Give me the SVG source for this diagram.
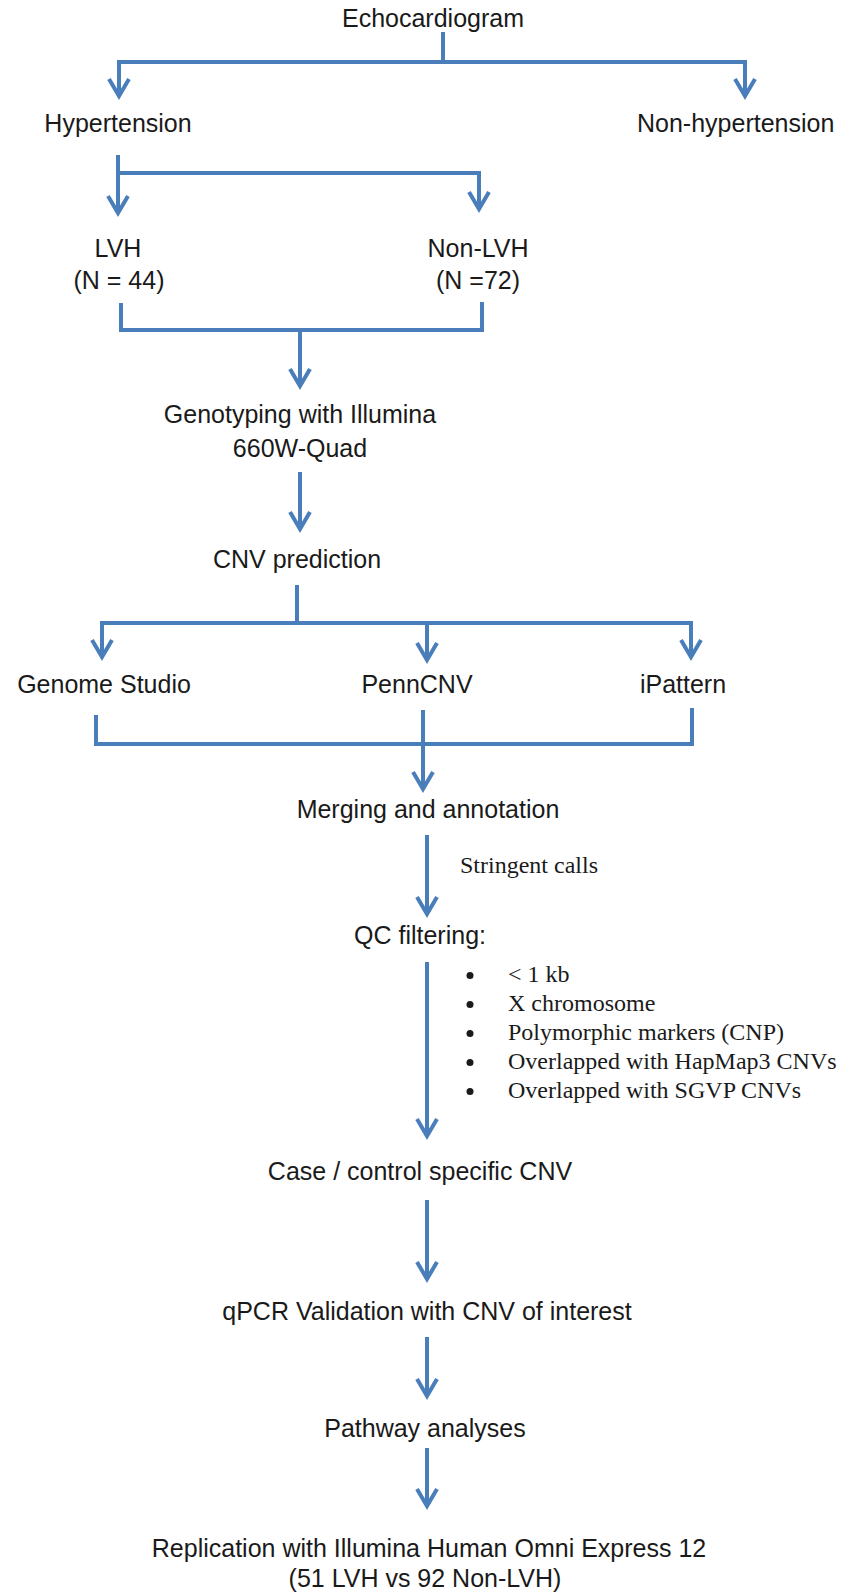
<svg xmlns="http://www.w3.org/2000/svg" width="848" height="1596" viewBox="0 0 848 1596">
<defs>
<style>
.t{font-family:"Liberation Sans",Arial,sans-serif;font-size:25px;fill:#1a1a1a;text-anchor:middle}
.s{font-family:"Liberation Serif","Times New Roman",serif;font-size:24px;fill:#1a1a1a}
.c{fill:none;stroke:#4a7ebb;stroke-width:4;stroke-linejoin:miter}
.a{marker-end:url(#ah)}
.b{fill:#1a1a1a}
</style>
<marker id="ah" viewBox="-20 -12 26 24" refX="0" refY="0" markerWidth="26" markerHeight="24" markerUnits="userSpaceOnUse" orient="auto" overflow="visible">
<path d="M-17,-10 L0,0 L-17,10" fill="none" stroke="#4a7ebb" stroke-width="4" stroke-linejoin="miter"/>
</marker>
</defs>
<rect width="848" height="1596" fill="#ffffff"/>
<g id="connectors">
<path class="c" d="M443,32 V62"/>
<path class="c a" d="M443,62 H119 V96"/>
<path class="c a" d="M443,62 H745 V96"/>
<path class="c a" d="M118,155 V213"/>
<path class="c a" d="M118,173 H479 V209"/>
<path class="c" d="M121,303 V330 H482 V302"/>
<path class="c a" d="M300,330 V386"/>
<path class="c a" d="M300,472 V529"/>
<path class="c" d="M297,585 V623"/>
<path class="c a" d="M297,623 H102 V657"/>
<path class="c a" d="M297,623 H691 V657"/>
<path class="c a" d="M427,623 V660"/>
<path class="c" d="M96,715 V744 H692 V708"/>
<path class="c a" d="M423,710 V789"/>
<path class="c a" d="M427,835 V914"/>
<path class="c a" d="M427,962 V1136"/>
<path class="c a" d="M427,1200 V1279"/>
<path class="c a" d="M427,1337 V1396"/>
<path class="c a" d="M427,1448 V1506"/>
</g>
<g id="echocardiogram"><text class="t" x="433" y="27">Echocardiogram</text></g>
<g id="hypertension"><text class="t" x="118" y="132">Hypertension</text></g>
<g id="non-hypertension"><text class="t" x="637" y="132" style="text-anchor:start">Non-hypertension</text></g>
<g id="lvh"><text class="t" x="118" y="257">LVH</text><text class="t" x="119" y="289">(N = 44)</text></g>
<g id="non-lvh"><text class="t" x="478" y="257">Non-LVH</text><text class="t" x="478" y="289">(N =72)</text></g>
<g id="genotyping"><text class="t" x="300" y="423">Genotyping with Illumina</text><text class="t" x="300" y="457">660W-Quad</text></g>
<g id="cnv-prediction"><text class="t" x="297" y="568">CNV prediction</text></g>
<g id="genome-studio"><text class="t" x="104" y="693">Genome Studio</text></g>
<g id="penncnv"><text class="t" x="417" y="693">PennCNV</text></g>
<g id="ipattern"><text class="t" x="683" y="693">iPattern</text></g>
<g id="merging"><text class="t" x="428" y="818">Merging and annotation</text></g>
<g id="stringent-label"><text class="s" x="460" y="873">Stringent calls</text></g>
<g id="qc-filtering">
<text class="t" x="420" y="944">QC filtering:</text>
<circle class="b" cx="470" cy="975.5" r="3.5"/>
<circle class="b" cx="470" cy="1004.5" r="3.5"/>
<circle class="b" cx="470" cy="1033.5" r="3.5"/>
<circle class="b" cx="470" cy="1062.5" r="3.5"/>
<circle class="b" cx="470" cy="1091.5" r="3.5"/>
<text class="s" x="508" y="982">&lt; 1 kb</text>
<text class="s" x="508" y="1011">X chromosome</text>
<text class="s" x="508" y="1040">Polymorphic markers (CNP)</text>
<text class="s" x="508" y="1069">Overlapped with HapMap3 CNVs</text>
<text class="s" x="508" y="1098">Overlapped with SGVP CNVs</text>
</g>
<g id="case-control"><text class="t" x="420" y="1180">Case / control specific CNV</text></g>
<g id="qpcr"><text class="t" x="427" y="1320">qPCR Validation with CNV of interest</text></g>
<g id="pathway"><text class="t" x="425" y="1437">Pathway analyses</text></g>
<g id="replication"><text class="t" x="429" y="1557">Replication with Illumina Human Omni Express 12</text><text class="t" x="425" y="1587">(51 LVH vs 92 Non-LVH)</text></g>
</svg>
